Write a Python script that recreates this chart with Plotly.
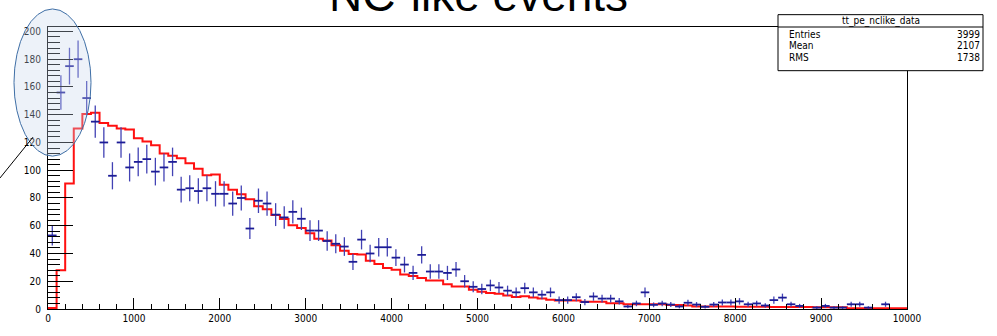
import numpy as np
import plotly.graph_objects as go

# ---------------- data ----------------
bin_edges = list(range(0, 10001, 100))
bin_centers = [e + 50 for e in bin_edges[:-1]]

mc_values = [0.7, 28, 90.5, 130, 140.5, 141.5, 134, 132, 130, 129.4,
             123, 120.7, 118, 112, 110.4, 108.6, 105, 101, 96.3, 97,
             89.5, 86, 82.6, 79, 74, 71.9, 67.8, 64.8, 60.4, 58.4,
             54.5, 50.6, 49.3, 46, 42, 39.7, 39.2, 34.7, 32.4, 29.6,
             28.3, 24.9, 23.7, 22.3, 20.5, 20.5, 17.8, 16.2, 16.2, 13.9,
             12.5, 11.6, 10.9, 9.8, 8.7, 9.1, 8.2, 7.5, 6.6, 6.2,
             6.1, 6.1, 5.2, 5.2, 5.2, 4.1, 4.1, 3.4, 3.4, 3.4,
             3.4, 3.4, 2.9, 2.9, 2.5, 1.8, 1.8, 1.8, 1.8, 1.8,
             1.7, 1.7, 1.6, 1.6, 1.5, 1.5, 1.5, 1.4, 1.4, 1.3,
             1.3, 1.2, 1.2, 0.6, 0.6, 0.6, 0.6, 0.6, 0.6, 0.6]

data_values = [53, 156, 175, 180, 152, 135, 120, 96, 120, 102,
               106, 108, 99, 102, 106, 86, 87, 85, 87, 83,
               83, 76, 80, 58, 78, 76, 68, 66, 70, 65,
               56.5, 56.5, 49, 47, 45, 34, 50, 40, 44.5, 44.5,
               37, 32, 26, 39, 27, 27, 26, 28.5, 20, 16,
               14.4, 17, 15.5, 13.2, 12, 15, 12, 10.3, 12, 6.4,
               6.4, 8.5, 5, 9, 7.5, 7.5, 5.5, 1.8, 4, 12,
               3, 4, 3.2, 1.8, 4.5, 3.2, 1.6, 3.2, 4.7, 4.7,
               5.5, 3.4, 4, 2.5, 6.4, 8.2, 3.4, 2.2, 0, 1,
               2.2, 1, 1, 3.4, 3.4, 1, 0, 3.4, 0, 0]

x_tick_vals = list(range(0, 10001, 1000))
x_tick_text = [str(v) for v in x_tick_vals]
y_tick_vals = list(range(0, 201, 20))
y_tick_text = [str(v) for v in y_tick_vals]

title_text = "NC-like events"
stats_name = "tt_pe_nclike_data"
stats_labels = ["Entries", "Mean", "RMS"]
stats_values = ["3999", "2107", "1738"]

# ---------------- figure ----------------
W, H = 997, 336
ML, MR, MT, MB = 48, 90, 27, 12
PW, PH = W - ML - MR, H - MT - MB


def px_x(px):
    return (px - ML) / PW


def px_y(py):
    return (H - MB - py) / PH


narrow = "Liberation Sans Narrow, Arial Narrow, DejaVu Sans Condensed, sans-serif"
navy = "#1c1c96"

fig = go.Figure()

step_y = mc_values + [mc_values[-1]]

# red MC histogram
fig.add_trace(go.Scatter(x=bin_edges, y=step_y, mode="lines", line_shape="hv",
                         line=dict(color="#ff1010", width=2), hoverinfo="skip"))

# data with error crosses
dv = [v if v > 0 else None for v in data_values]
derr = [float(np.sqrt(v)) if v > 0 else 0 for v in data_values]
fig.add_trace(go.Scatter(
    x=bin_centers, y=dv, mode="markers",
    marker=dict(size=1, color="rgba(0,0,0,0)"),
    error_x=dict(type="constant", value=50, thickness=1.8, width=0, color=navy),
    error_y=dict(type="data", array=derr, thickness=1.3, width=0, color="#4242b4"),
    hoverinfo="skip"))

axis_common = dict(showline=True, linecolor="black", linewidth=1, mirror=True,
                   ticks="inside", tickcolor="black", tickwidth=1,
                   showgrid=False, zeroline=False,
                   tickfont=dict(family=narrow, size=10, color="black"))

fig.update_layout(
    width=W, height=H,
    margin=dict(l=ML, r=MR, t=MT, b=MB, pad=0),
    paper_bgcolor="white", plot_bgcolor="white",
    showlegend=False,
    xaxis=dict(range=[0, 10000], tickvals=x_tick_vals, ticktext=x_tick_text,
               ticklen=11,
               minor=dict(dtick=200, tick0=0, ticklen=5, ticks="inside",
                          tickcolor="black", showgrid=False),
               **axis_common),
    yaxis=dict(range=[0, 203.2], tickvals=y_tick_vals, ticktext=y_tick_text,
               ticklen=25, ticklabelstandoff=4,
               minor=dict(dtick=4, tick0=0, ticklen=12, ticks="inside",
                          tickcolor="black", showgrid=False),
               **axis_common),
)

shapes = []
# stats box
bx0, bx1, by0, by1 = px_x(778), px_x(983), px_y(73), px_y(14)
shapes.append(dict(type="rect", xref="paper", yref="paper", x0=bx0, x1=bx1, y0=by0, y1=by1,
                   fillcolor="white", line=dict(color="black", width=1), layer="above"))
shapes.append(dict(type="line", xref="paper", yref="paper", x0=bx0, x1=bx1, y0=1.0, y1=1.0,
                   line=dict(color="black", width=1), layer="above"))
# highlight ellipse
shapes.append(dict(type="circle", xref="paper", yref="paper",
                   x0=px_x(14), x1=px_x(91), y0=px_y(163), y1=px_y(8),
                   fillcolor="rgba(200,215,236,0.32)",
                   line=dict(color="#3f6fa6", width=1), layer="above"))
# pointer line
shapes.append(dict(type="line", xref="paper", yref="paper",
                   x0=px_x(0), y0=px_y(186), x1=px_x(33), y1=px_y(143),
                   line=dict(color="black", width=1), layer="above"))
fig.update_layout(shapes=shapes)

ann = []
ann.append(dict(text=title_text, xref="paper", yref="paper", x=px_x(478), y=px_y(23),
                xanchor="center", yanchor="bottom", showarrow=False,
                font=dict(family="Liberation Sans, Arial, sans-serif", size=46, color="black")))
ann.append(dict(text=stats_name, xref="paper", yref="paper", x=px_x(880.5), y=px_y(20.5),
                xanchor="center", yanchor="middle", showarrow=False,
                font=dict(family=narrow, size=10, color="black")))
row_py = [35, 47, 59]
for lab, val, py in zip(stats_labels, stats_values, row_py):
    ann.append(dict(text=lab, xref="paper", yref="paper", x=px_x(787), y=px_y(py),
                    xanchor="left", yanchor="middle", showarrow=False,
                    font=dict(family=narrow, size=10, color="black")))
    ann.append(dict(text=val, xref="paper", yref="paper", x=px_x(982), y=px_y(py),
                    xanchor="right", yanchor="middle", showarrow=False,
                    font=dict(family=narrow, size=10, color="black")))
fig.update_layout(annotations=ann)

fig.write_html("out.html")
